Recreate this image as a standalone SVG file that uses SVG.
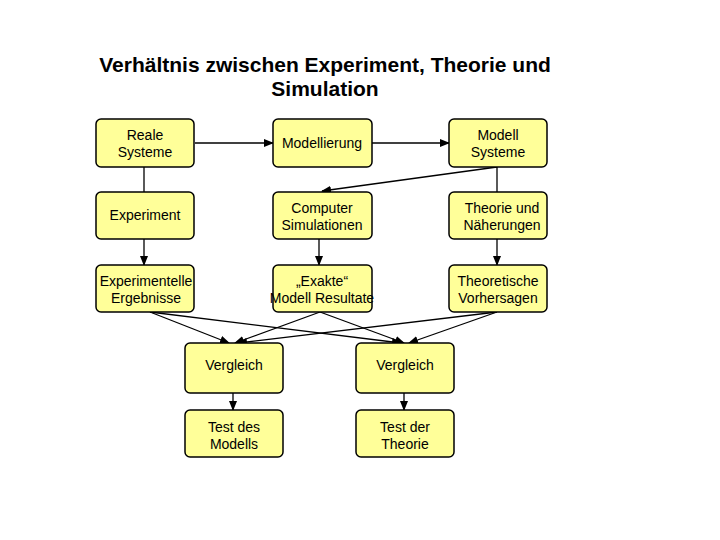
<svg xmlns="http://www.w3.org/2000/svg" width="720" height="540" viewBox="0 0 720 540">
<defs>
<marker id="ah" markerWidth="10" markerHeight="8" refX="9" refY="4" orient="auto" markerUnits="userSpaceOnUse">
<path d="M0,0 L10,4 L0,8 Z" fill="#000"/>
</marker>
<style>
.box{fill:#FFFF99;stroke:#000;stroke-width:1.5}
.t{font-family:"Liberation Sans",Arial,sans-serif;font-size:14px;fill:#000;text-anchor:middle}
.title{font-family:"Liberation Sans",Arial,sans-serif;font-size:21px;font-weight:bold;fill:#000;text-anchor:middle}
.c{stroke:#000;stroke-width:1.3;fill:none}
.a{marker-end:url(#ah)}
</style>
</defs>
<rect width="720" height="540" fill="#fff"/>
<g id="title">
<text class="title" x="325" y="72">Verhältnis zwischen Experiment, Theorie und</text>
<text class="title" x="325" y="96">Simulation</text>
</g>
<g id="connectors">
<line class="c a" x1="195" y1="143" x2="273" y2="143"/>
<line class="c a" x1="372" y1="143" x2="449" y2="143"/>
<line class="c" x1="144" y1="167" x2="144" y2="192"/>
<line class="c" x1="497" y1="167" x2="497" y2="192"/>
<line class="c a" x1="497" y1="167" x2="322" y2="191"/>
<line class="c a" x1="144" y1="239" x2="144" y2="265"/>
<line class="c a" x1="319" y1="239" x2="319" y2="265"/>
<line class="c a" x1="497" y1="239" x2="497" y2="265"/>
<line class="c a" x1="150" y1="312" x2="229" y2="343"/>
<line class="c a" x1="150" y1="312" x2="401" y2="343"/>
<line class="c a" x1="320" y1="312" x2="235" y2="343"/>
<line class="c a" x1="320" y1="312" x2="404" y2="343"/>
<line class="c a" x1="497" y1="312" x2="238" y2="343"/>
<line class="c a" x1="497" y1="312" x2="409" y2="343"/>
<line class="c a" x1="233" y1="393" x2="233" y2="410"/>
<line class="c a" x1="404" y1="393" x2="404" y2="410"/>
</g>
<g id="reale">
<rect class="box" x="96" y="119" width="98" height="48" rx="5"/>
<text class="t" x="145" y="140">Reale</text>
<text class="t" x="145" y="157">Systeme</text>
</g>
<g id="modellierung">
<rect class="box" x="273" y="119" width="99" height="48" rx="5"/>
<text class="t" x="322" y="148">Modellierung</text>
</g>
<g id="modellsysteme">
<rect class="box" x="449" y="119" width="98" height="48" rx="5"/>
<text class="t" x="498" y="140">Modell</text>
<text class="t" x="498" y="157">Systeme</text>
</g>
<g id="experiment">
<rect class="box" x="96" y="192" width="98" height="47" rx="5"/>
<text class="t" x="145" y="220">Experiment</text>
</g>
<g id="computer">
<rect class="box" x="273" y="192" width="99" height="47" rx="5"/>
<text class="t" x="322" y="213">Computer</text>
<text class="t" x="322" y="230">Simulationen</text>
</g>
<g id="theorie">
<rect class="box" x="449" y="192" width="98" height="47" rx="5"/>
<text class="t" x="502" y="213">Theorie und</text>
<text class="t" x="502" y="230">Näherungen</text>
</g>
<g id="expergebnisse">
<rect class="box" x="96" y="265" width="98" height="47" rx="5"/>
<text class="t" x="146" y="286">Experimentelle</text>
<text class="t" x="146" y="303">Ergebnisse</text>
</g>
<g id="exakte">
<rect class="box" x="273" y="265" width="99" height="47" rx="5"/>
<text class="t" x="322" y="286">„Exakte“</text>
<text class="t" x="322" y="303">Modell Resultate</text>
</g>
<g id="theoretische">
<rect class="box" x="449" y="265" width="98" height="47" rx="5"/>
<text class="t" x="498" y="286">Theoretische</text>
<text class="t" x="498" y="303">Vorhersagen</text>
</g>
<g id="vergleich1">
<rect class="box" x="185" y="343" width="98" height="50" rx="5"/>
<text class="t" x="234" y="370">Vergleich</text>
</g>
<g id="vergleich2">
<rect class="box" x="356" y="343" width="98" height="50" rx="5"/>
<text class="t" x="405" y="370">Vergleich</text>
</g>
<g id="testmodell">
<rect class="box" x="185" y="410" width="98" height="47" rx="5"/>
<text class="t" x="234" y="432">Test des</text>
<text class="t" x="234" y="449">Modells</text>
</g>
<g id="testtheorie">
<rect class="box" x="356" y="410" width="98" height="47" rx="5"/>
<text class="t" x="405" y="432">Test der</text>
<text class="t" x="405" y="449">Theorie</text>
</g>
</svg>
